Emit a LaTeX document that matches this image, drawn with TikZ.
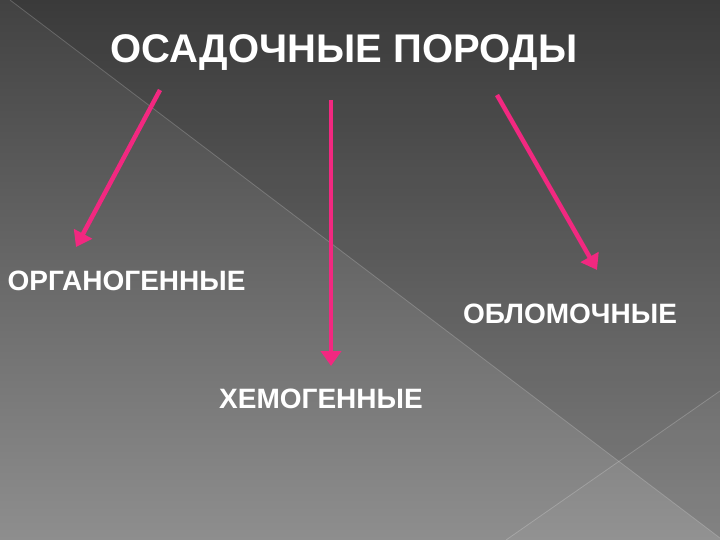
\documentclass[tikz,border=0pt]{standalone}
\usepackage{fontspec}
\setmainfont{Liberation Sans}
\usetikzlibrary{arrows.meta}
\definecolor{arrowpink}{RGB}{242,40,128}
\definecolor{bgtop}{RGB}{66,66,66}
\definecolor{bgbot}{RGB}{142,142,142}
\tikzset{
  title/.style={text=white,font=\bfseries\fontsize{40}{44}\selectfont,inner sep=0pt,anchor=base},
  item/.style={text=white,font=\bfseries\fontsize{28}{32}\selectfont,inner sep=0pt,anchor=base},
  pinkarrow/.style={draw=arrowpink,line width=4.5pt,-{Triangle[width=20pt,length=15pt]}},
  facet/.style={draw=white,draw opacity=0.2,line width=0.8pt}
}
\begin{document}
\begin{tikzpicture}[x=1pt,y=-1pt]
\useasboundingbox (0,0) rectangle (720,540);
% background
\shade[top color=bgtop,bottom color=bgbot] (0,0) rectangle (720,540);
\fill[black,opacity=0.11] (10,0) -- (720,538) -- (720,0) -- cycle;
\fill[white,opacity=0.04] (720,391) -- (506,540) -- (720,540) -- cycle;
\draw[facet] (10,0) -- (720,538);
\draw[facet] (720,391) -- (506,540);
% texts
\node[title] (root) at (344,63) {ОСАДОЧНЫЕ ПОРОДЫ};
\node[item] (org) at (126.5,290) {ОРГАНОГЕННЫЕ};
\node[item] (obl) at (570,323) {ОБЛОМОЧНЫЕ};
\node[item] (hem) at (321,408) {ХЕМОГЕННЫЕ};
% arrow ends
\coordinate (s1) at (160,90);
\coordinate (t1) at (76,247);
\coordinate (s2) at (331,100);
\coordinate (t2) at (331,366);
\coordinate (s3) at (497,95);
\coordinate (t3) at (597,270);
\draw[pinkarrow] (s1) -- (t1);
\draw[pinkarrow] (s2) -- (t2);
\draw[pinkarrow] (s3) -- (t3);
\end{tikzpicture}
\end{document}
